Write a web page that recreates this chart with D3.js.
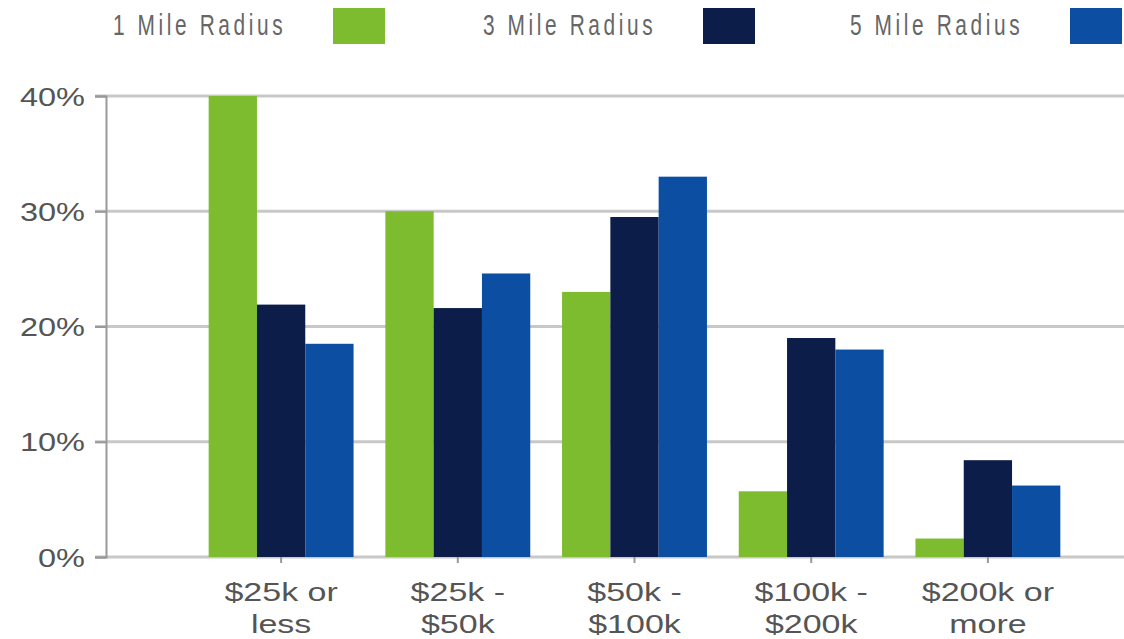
<!DOCTYPE html>
<html>
<head>
<meta charset="utf-8">
<script src="https://cdn.jsdelivr.net/npm/d3@7"></script>
<style>
  html, body { margin: 0; padding: 0; background: #fff; }
  svg { display: block; }
</style>
</head>
<body>
<svg id="chart" width="1124" height="639"></svg>
<script>
// Household income distribution by radius
const categories = [["$25k or", "less"], ["$25k -", "$50k"], ["$50k -", "$100k"], ["$100k -", "$200k"], ["$200k or", "more"]];
const seriesNames = ["1 Mile Radius", "3 Mile Radius", "5 Mile Radius"];
const oneMile   = [40.0, 30.0, 23.0, 5.7, 1.6];
const threeMile = [21.9, 21.6, 29.5, 19.0, 8.4];
const fiveMile  = [18.5, 24.6, 33.0, 18.0, 6.2];
const yTicks = [0, 10, 20, 30, 40];
const colors = ["#7dbb2f", "#0b1d48", "#0b4ea2"];

const svg = d3.select("#chart");
const W = 1124;
const FONT = "'Liberation Sans', Arial, sans-serif";

const seriesValues = [oneMile, threeMile, fiveMile];
const rows = categories.map((c, i) => ({ key: i, label: c, vals: seriesValues.map(s => s[i]) }));

const x0 = d3.scaleBand().domain(d3.range(categories.length)).range([191, 1078]).paddingInner(0.18).paddingOuter(0.1);
const x1 = d3.scaleBand().domain(d3.range(seriesNames.length)).range([0, x0.bandwidth()]);
const y = d3.scaleLinear().domain([0, 40]).range([557, 96]);

// gridlines
svg.append("g").selectAll("line").data(yTicks).join("line")
  .attr("x1", 95).attr("x2", W)
  .attr("y1", d => y(d)).attr("y2", d => y(d))
  .attr("stroke", "#c8c8c8").attr("stroke-width", 3);

// y axis
const yAxis = d3.axisLeft(y).tickValues(yTicks).tickFormat(d => d + "%").tickSize(11).tickPadding(10);
const gy = svg.append("g").attr("transform", "translate(106,0)").call(yAxis);
gy.select(".domain").attr("stroke", "#999").attr("stroke-width", 2);
gy.selectAll(".tick line").attr("stroke", "#999").attr("stroke-width", 2);
gy.selectAll(".tick text")
  .attr("x", 0)
  .attr("transform", "translate(-21,0) scale(1.3,1)")
  .attr("font-family", FONT)
  .attr("font-size", 25).attr("fill", "#555").attr("dy", "0.36em");

// bars
const groups = svg.append("g").selectAll("g").data(rows).join("g")
  .attr("transform", d => `translate(${x0(d.key)},0)`);
groups.selectAll("rect").data(d => d.vals.map((v, j) => ({ v, j }))).join("rect")
  .attr("x", d => x1(d.j)).attr("width", x1.bandwidth())
  .attr("y", d => y(d.v)).attr("height", d => y(0) - y(d.v))
  .attr("fill", d => colors[d.j]);

// x axis
const xAxis = d3.axisBottom(x0).tickSize(6).tickFormat("");
const gx = svg.append("g").attr("transform", `translate(0,${y(0)})`).call(xAxis);
gx.select(".domain").remove();
gx.selectAll(".tick line").attr("stroke", "#999").attr("stroke-width", 2);

const xl = svg.append("g").selectAll("text").data(rows).join("text")
  .attr("transform", d => `translate(${x0(d.key) + x0.bandwidth() / 2},0) scale(1.36,1)`)
  .attr("text-anchor", "middle")
  .attr("font-family", FONT)
  .attr("font-size", 25).attr("fill", "#555");
xl.selectAll("tspan").data(d => d.label).join("tspan")
  .attr("x", 0)
  .attr("y", (d, i) => 601 + i * 32)
  .text(d => d);

// legend
const legendX = [113, 483, 850];
const legend = svg.append("g").selectAll("g").data(seriesNames).join("g")
  .attr("transform", (d, i) => `translate(${legendX[i]},0)`);
legend.append("text")
  .attr("transform", "translate(0,35) scale(0.72,1)")
  .attr("font-family", FONT)
  .attr("font-size", 29).attr("fill", "#666")
  .attr("letter-spacing", 5)
  .text(d => d);
legend.append("rect")
  .attr("x", 220).attr("y", 8).attr("width", 52).attr("height", 36)
  .attr("fill", (d, i) => colors[i]);
</script>
</body>
</html>
